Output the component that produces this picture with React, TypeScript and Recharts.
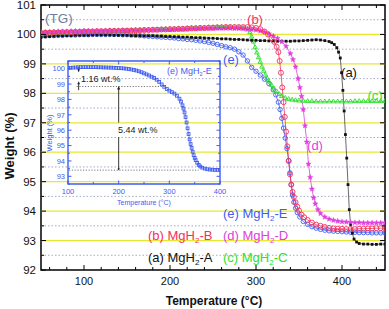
import React from 'react';
import { LineChart, Line, XAxis, YAxis, ReferenceLine, ReferenceArea } from 'recharts';

const W = 389;
const H = 309;
// main plot box (px)
const PL = 41, PR = 385, PT = 5, PB = 270;
// inset plot box (px)
const IL = 68, IR = 220, IT = 61, IB = 184;

const FONT = "'Liberation Sans', Arial, Helvetica, sans-serif";

const C_A = '#111111';
const C_B = '#f5305c';
const C_C = '#2ee02e';
const C_D = '#e040e0';
const C_E = '#3f5cf2';
const C_TG = '#6c7da0';
const YELLOW = '#e8e830';
const DOT_GRAY = '#a3acc8';

// ---- data: [temperature °C, weight %] ----
const curveA: [number, number][] = [
  [50, 99.9], [55, 99.92], [60, 99.93], [65, 99.94], [70, 99.95], [75, 99.95], [80, 99.96], [85, 99.96],
  [90, 99.97], [95, 99.97], [100, 99.97], [105, 99.97], [110, 99.98], [115, 99.98], [120, 99.98], [125, 99.98],
  [130, 99.98], [135, 99.97], [140, 99.97], [145, 99.97], [150, 99.97], [155, 99.96], [160, 99.96], [165, 99.96],
  [170, 99.95], [175, 99.95], [180, 99.95], [185, 99.94], [190, 99.94], [195, 99.93], [200, 99.93], [205, 99.92],
  [210, 99.92], [215, 99.91], [220, 99.91], [225, 99.9], [230, 99.89], [235, 99.89], [240, 99.88], [245, 99.87],
  [250, 99.87], [255, 99.86], [260, 99.85], [265, 99.85], [270, 99.84], [275, 99.83], [280, 99.83], [285, 99.82],
  [290, 99.81], [295, 99.8], [300, 99.8], [305, 99.79], [310, 99.79], [315, 99.78], [320, 99.78], [325, 99.77],
  [330, 99.77], [335, 99.77], [340, 99.77], [345, 99.78], [350, 99.78], [355, 99.79], [360, 99.8], [365, 99.81],
  [370, 99.82], [375, 99.81], [380, 99.79], [385, 99.76], [388, 99.72], [391, 99.66], [394, 99.55], [396, 99.4],
  [398, 99.2], [399.5, 98.7], [401, 98.1], [402.5, 97.4], [404, 96.6], [405.5, 95.8], [407, 94.9], [408.5, 94.05],
  [410, 93.55], [412, 93.25], [414, 93.05], [417, 92.95], [420, 92.9], [425, 92.88], [430, 92.88], [435, 92.87],
  [440, 92.87], [445, 92.88], [450, 92.88],
];

const curveB: [number, number][] = [
  [50, 100.05], [55, 100.06], [60, 100.06], [65, 100.07], [70, 100.07], [75, 100.08], [80, 100.08], [85, 100.08],
  [90, 100.09], [95, 100.09], [100, 100.1], [105, 100.1], [110, 100.1], [115, 100.11], [120, 100.11], [125, 100.11],
  [130, 100.12], [135, 100.12], [140, 100.12], [145, 100.13], [150, 100.13], [155, 100.13], [160, 100.14], [165, 100.14],
  [170, 100.15], [175, 100.15], [180, 100.16], [185, 100.16], [190, 100.17], [195, 100.17], [200, 100.18], [205, 100.18],
  [210, 100.19], [215, 100.19], [220, 100.2], [225, 100.21], [230, 100.21], [235, 100.22], [240, 100.22], [245, 100.23],
  [250, 100.23], [255, 100.24], [260, 100.24], [265, 100.25], [270, 100.25], [275, 100.25], [280, 100.25], [285, 100.25],
  [290, 100.25], [295, 100.24], [300, 100.22], [305, 100.18], [310, 100.1], [314, 100.0], [318, 99.88], [321, 99.75],
  [324, 99.58], [326, 99.4], [327.5, 99.1], [329, 98.7], [330.5, 98.2], [332, 97.7], [333.5, 97.2], [335, 96.7],
  [336.5, 96.2], [338, 95.7], [339.5, 95.25], [341, 94.9], [342.5, 94.65], [344, 94.48], [346, 94.3], [348, 94.15],
  [350, 94.02], [353, 93.88], [356, 93.79], [360, 93.7], [365, 93.61], [370, 93.54], [375, 93.5], [380, 93.46],
  [385, 93.43], [390, 93.41], [395, 93.4], [400, 93.4], [405, 93.39], [410, 93.39], [415, 93.39], [420, 93.4],
  [425, 93.4], [430, 93.41], [435, 93.41], [440, 93.42], [445, 93.42], [450, 93.42],
];

const curveC: [number, number][] = [
  [50, 100.0], [55, 100.01], [60, 100.02], [65, 100.03], [70, 100.04], [75, 100.05], [80, 100.05], [85, 100.06],
  [90, 100.07], [95, 100.07], [100, 100.08], [105, 100.08], [110, 100.09], [115, 100.1], [120, 100.1], [125, 100.11],
  [130, 100.11], [135, 100.12], [140, 100.12], [145, 100.13], [150, 100.13], [155, 100.14], [160, 100.14], [165, 100.15],
  [170, 100.15], [175, 100.16], [180, 100.16], [185, 100.17], [190, 100.17], [195, 100.18], [200, 100.18], [205, 100.19],
  [210, 100.2], [215, 100.2], [220, 100.21], [225, 100.22], [230, 100.22], [235, 100.23], [240, 100.23], [245, 100.24],
  [250, 100.24], [255, 100.25], [260, 100.25], [265, 100.25], [270, 100.25], [275, 100.25], [280, 100.24], [285, 100.22],
  [290, 100.17], [293, 100.07], [295, 99.92], [297, 99.75], [299, 99.56], [301, 99.38], [303, 99.22], [305, 99.06],
  [307, 98.9], [309, 98.76], [311, 98.63], [313, 98.5], [315, 98.4], [318, 98.28], [321, 98.16], [324, 98.06],
  [327, 97.97], [330, 97.9], [334, 97.84], [338, 97.8], [342, 97.78], [346, 97.76], [350, 97.75], [355, 97.74],
  [360, 97.73], [365, 97.73], [370, 97.72], [375, 97.72], [380, 97.72], [385, 97.72], [390, 97.72], [395, 97.72],
  [400, 97.72], [405, 97.72], [410, 97.72], [415, 97.73], [420, 97.73], [425, 97.73], [430, 97.73], [435, 97.73],
  [440, 97.73], [445, 97.73], [450, 97.73],
];

const curveD: [number, number][] = [
  [50, 100.08], [55, 100.08], [60, 100.09], [65, 100.09], [70, 100.1], [75, 100.1], [80, 100.1], [85, 100.11],
  [90, 100.11], [95, 100.11], [100, 100.12], [105, 100.12], [110, 100.12], [115, 100.12], [120, 100.12], [125, 100.13],
  [130, 100.13], [135, 100.13], [140, 100.13], [145, 100.13], [150, 100.13], [155, 100.14], [160, 100.14], [165, 100.14],
  [170, 100.15], [175, 100.15], [180, 100.15], [185, 100.15], [190, 100.16], [195, 100.16], [200, 100.16], [205, 100.17],
  [210, 100.17], [215, 100.18], [220, 100.18], [225, 100.19], [230, 100.19], [235, 100.2], [240, 100.2], [245, 100.2],
  [250, 100.2], [255, 100.21], [260, 100.21], [265, 100.21], [270, 100.21], [275, 100.2], [280, 100.2], [285, 100.19],
  [290, 100.18], [295, 100.17], [300, 100.15], [305, 100.12], [310, 100.08], [315, 100.02], [320, 99.95], [325, 99.87],
  [330, 99.75], [335, 99.6], [340, 99.35], [343, 99.15], [346, 98.9], [349, 98.5], [351, 98.2], [353, 97.9],
  [355, 97.45], [357, 96.9], [359, 96.35], [361, 95.6], [363, 95.15], [365, 94.75], [367, 94.45], [369, 94.25],
  [372, 94.05], [375, 93.92], [380, 93.8], [385, 93.73], [390, 93.69], [395, 93.66], [400, 93.64], [405, 93.63],
  [410, 93.62], [415, 93.61], [420, 93.61], [425, 93.6], [430, 93.6], [435, 93.6], [440, 93.6], [445, 93.6], [450, 93.6],
];

const curveE: [number, number][] = [
  [50, 99.95], [55, 99.95], [60, 99.96], [65, 99.96], [70, 99.97], [75, 99.97], [80, 99.98], [85, 99.98],
  [90, 99.98], [95, 99.99], [100, 99.99], [105, 99.99], [110, 100.0], [115, 100.0], [120, 100.0], [125, 100.0],
  [130, 100.0], [135, 100.0], [140, 100.0], [145, 99.99], [150, 99.99], [155, 99.98], [160, 99.97], [165, 99.96],
  [170, 99.95], [175, 99.94], [180, 99.93], [185, 99.92], [190, 99.91], [195, 99.9], [200, 99.89], [205, 99.88],
  [210, 99.86], [215, 99.85], [220, 99.83], [225, 99.82], [230, 99.8], [235, 99.78], [240, 99.76], [245, 99.73],
  [250, 99.7], [255, 99.66], [260, 99.62], [265, 99.58], [270, 99.55], [275, 99.5], [280, 99.41], [285, 99.3],
  [290, 99.1], [295, 98.88], [300, 98.75], [305, 98.62], [310, 98.48], [315, 98.33], [320, 98.12], [323, 97.95],
  [326, 97.7], [328, 97.45], [330, 97.15], [332, 96.82], [334, 96.48], [336, 96.12], [338, 95.72], [339.5, 95.3],
  [341, 94.9], [342.5, 94.55], [344, 94.3], [346, 94.1], [348, 93.95], [351, 93.8], [355, 93.65], [360, 93.55],
  [365, 93.47], [370, 93.42], [375, 93.38], [380, 93.35], [385, 93.33], [390, 93.32], [395, 93.31], [400, 93.3],
  [405, 93.29], [410, 93.28], [415, 93.28], [420, 93.27], [425, 93.27], [430, 93.27], [435, 93.26], [440, 93.26],
  [445, 93.26], [450, 93.26],
];

const insetE: [number, number][] = [
  [100, 100.05], [105, 100.06], [110, 100.07], [115, 100.08], [120, 100.09], [125, 100.1], [130, 100.1], [135, 100.1],
  [140, 100.1], [145, 100.1], [150, 100.1], [155, 100.1], [160, 100.09], [165, 100.09], [170, 100.08], [175, 100.08],
  [180, 100.07], [185, 100.07], [190, 100.06], [195, 100.05], [200, 100.04], [205, 100.03], [210, 100.02], [215, 100.0],
  [220, 99.98], [225, 99.95], [230, 99.92], [235, 99.88], [240, 99.83], [245, 99.77], [250, 99.7], [255, 99.63],
  [260, 99.56], [265, 99.48], [270, 99.4], [275, 99.28], [280, 99.14], [285, 98.98], [290, 98.82], [295, 98.68],
  [300, 98.57], [305, 98.48], [310, 98.38], [315, 98.24], [320, 98.05], [323, 97.86], [326, 97.62], [328, 97.4],
  [330, 97.15], [332, 96.85], [334, 96.5], [336, 96.12], [338, 95.75], [340, 95.4], [342, 95.1], [344, 94.85],
  [346, 94.6], [348, 94.38], [350, 94.2], [352, 94.05], [355, 93.88], [358, 93.74], [361, 93.64], [365, 93.56],
  [370, 93.5], [375, 93.46], [380, 93.44], [385, 93.43], [390, 93.42], [395, 93.42], [400, 93.41],
];

// ---- ticks & grid values ----
const xTicks = [60, 80, 100, 120, 140, 160, 180, 200, 220, 240, 260, 280, 300, 320, 340, 360, 380, 400, 420, 440];
const yTicks = [92, 92.5, 93, 93.5, 94, 94.5, 95, 95.5, 96, 96.5, 97, 97.5, 98, 98.5, 99, 99.5, 100, 100.5, 101];
const yellowLines = [93, 94, 95, 96, 97, 98, 99, 100];
const dottedLines = [92.5, 93.5, 94.5, 95.5, 96.5, 97.5, 98.5, 99.5, 100.5];
const insetXTicks = [100, 150, 200, 250, 300, 350, 400];
const insetYTicks = [92.5, 93, 93.5, 94, 94.5, 95, 95.5, 96, 96.5, 97, 97.5, 98, 98.5, 99, 99.5, 100, 100.5];

// annotation values in the inset
const stepTop = 98.84;
const stepBottom = 93.4;

const toPts = (arr: [number, number][]) => arr.map(([t, w]) => ({ t, w }));

// ---- markers ----
const squareDot = (color: string, s: number, filled: boolean) => (p: any) => (
  <rect key={`sq${p.index}`} x={p.cx - s / 2} y={p.cy - s / 2} width={s} height={s}
    fill={filled ? color : 'none'} stroke={color} strokeWidth={filled ? 0 : 0.9} />
);
const circleDot = (color: string, r: number) => (p: any) => (
  <circle key={`ci${p.index}`} cx={p.cx} cy={p.cy} r={r} fill="none" stroke={color} strokeWidth={0.9} />
);
const triDot = (color: string, r: number) => (p: any) => (
  <path key={`tr${p.index}`}
    d={`M${p.cx},${p.cy - r}L${p.cx + r * 0.87},${p.cy + r * 0.5}L${p.cx - r * 0.87},${p.cy + r * 0.5}Z`}
    fill="none" stroke={color} strokeWidth={0.9} />
);
const starDot = (color: string, r: number) => (p: any) => {
  let d = '';
  for (let i = 0; i < 10; i++) {
    const a = -Math.PI / 2 + (i * Math.PI) / 5;
    const rr = i % 2 === 0 ? r : r * 0.45;
    d += (i === 0 ? 'M' : 'L') + (p.cx + rr * Math.cos(a)).toFixed(2) + ',' + (p.cy + rr * Math.sin(a)).toFixed(2);
  }
  return <path key={`st${p.index}`} d={d + 'Z'} fill={color} stroke={color} strokeWidth={0.4} />;
};

// ---- ticks (drawn inward on all four sides) ----
const mainXTick = (p: any) => {
  const v = p.payload.value;
  const x = p.x;
  const major = v % 100 === 0;
  const len = major ? 5 : 3;
  return (
    <g>
      <line x1={x} x2={x} y1={PB} y2={PB - len} stroke="#000" />
      <line x1={x} x2={x} y1={PT} y2={PT + len} stroke="#000" />
      {major && (
        <text x={x} y={PB + 15} textAnchor="middle" fontSize={11} fontFamily={FONT} fill="#111">{v}</text>
      )}
    </g>
  );
};

const mainYTick = (p: any) => {
  const v = p.payload.value;
  const y = p.y;
  const major = Number.isInteger(v);
  const len = major ? 5 : 3;
  return (
    <g>
      <line x1={PL} x2={PL + len} y1={y} y2={y} stroke="#000" />
      <line x1={PR} x2={PR - len} y1={y} y2={y} stroke="#000" />
      {major && (
        <text x={PL - 5} y={y + 4} textAnchor="end" fontSize={11.5} fontFamily={FONT} fill="#111">{v}</text>
      )}
    </g>
  );
};

const insetXTick = (p: any) => {
  const v = p.payload.value;
  const x = p.x;
  const major = v % 100 === 0;
  const len = major ? 3.5 : 2;
  return (
    <g>
      <line x1={x} x2={x} y1={IB} y2={IB - len} stroke={C_E} />
      <line x1={x} x2={x} y1={IT} y2={IT + len} stroke={C_E} />
      {major && (
        <text x={x} y={IB + 10} textAnchor="middle" fontSize={7.5} fontFamily={FONT} fill={C_E}>{v}</text>
      )}
    </g>
  );
};

const insetYTick = (p: any) => {
  const v = p.payload.value;
  const y = p.y;
  const major = Number.isInteger(v);
  const len = major ? 3.5 : 2;
  return (
    <g>
      <line x1={IL} x2={IL + len} y1={y} y2={y} stroke={C_E} />
      <line x1={IR} x2={IR - len} y1={y} y2={y} stroke={C_E} />
      {major && (
        <text x={IL - 3} y={y + 2.7} textAnchor="end" fontSize={7.5} fontFamily={FONT} fill={C_E}>{v}</text>
      )}
    </g>
  );
};

// line with an arrowhead at its second point
const arrow = (color: string, head: number) => (p: any) => {
  const { x1, y1, x2, y2 } = p;
  const dir = y2 < y1 ? 1 : -1;
  return (
    <g>
      <line x1={x1} y1={y1} x2={x2} y2={y2} stroke={color} strokeWidth={0.9} />
      {head > 0 && (
        <path d={`M${x2},${y2}L${x2 - head * 0.55},${y2 + dir * head}L${x2 + head * 0.55},${y2 + dir * head}Z`} fill={color} />
      )}
    </g>
  );
};

const MgLabel = ({ x, y, tag, suffix, color, size }: any) => (
  <text x={x} y={y} fill={color} fontSize={size} fontFamily={FONT}>
    ({tag}) MgH<tspan fontSize={size * 0.62} dy={size * 0.22}>2</tspan>
    <tspan dy={-size * 0.22}>-{suffix}</tspan>
  </text>
);

export default function App() {
  return (
    <div style={{ position: 'absolute', left: 0, top: 0, width: W, height: H, background: '#fff' }}>
      <LineChart width={W} height={H} margin={{ top: PT, right: W - PR, bottom: H - PB - 1, left: PL - 1 }}>
        <XAxis type="number" dataKey="t" domain={[50, 450]} allowDataOverflow ticks={xTicks} interval={0}
          tick={mainXTick} tickLine={false} axisLine={false} tickSize={0} tickMargin={0} height={1} />
        <YAxis type="number" domain={[92, 101]} allowDataOverflow ticks={yTicks} interval={0}
          tick={mainYTick} tickLine={false} axisLine={false} tickSize={0} tickMargin={0} width={1} />
        {dottedLines.map((v) => (
          <ReferenceLine key={`d${v}`} y={v} stroke={DOT_GRAY} strokeDasharray="1.5 2" strokeWidth={1} />
        ))}
        {yellowLines.map((v) => (
          <ReferenceLine key={`y${v}`} y={v} stroke={YELLOW} strokeWidth={1.2} />
        ))}
        <Line data={toPts(curveE)} dataKey="w" stroke={C_E} strokeWidth={0.8} dot={circleDot(C_E, 2.2)} isAnimationActive={false} />
        <Line data={toPts(curveC)} dataKey="w" stroke={C_C} strokeWidth={0.8} dot={triDot(C_C, 2.6)} isAnimationActive={false} />
        <Line data={toPts(curveA)} dataKey="w" stroke="#444" strokeWidth={0.8} dot={squareDot(C_A, 2.8, true)} isAnimationActive={false} />
        <Line data={toPts(curveD)} dataKey="w" stroke={C_D} strokeWidth={0.8} dot={starDot(C_D, 2.8)} isAnimationActive={false} />
        <Line data={toPts(curveB)} dataKey="w" stroke={C_B} strokeWidth={0.8} dot={circleDot(C_B, 2.5)} isAnimationActive={false} />
        <ReferenceArea x1={50} x2={450} y1={92} y2={101} fill="none" stroke="#000" strokeWidth={1.5} fillOpacity={0} />
      </LineChart>

      <div style={{ position: 'absolute', left: 0, top: 0 }}>
        <LineChart width={W} height={H} margin={{ top: IT, right: W - IR, bottom: H - IB - 1, left: IL - 1 }}>
          <XAxis type="number" dataKey="t" domain={[100, 400]} allowDataOverflow ticks={insetXTicks} interval={0}
            tick={insetXTick} tickLine={false} axisLine={false} tickSize={0} tickMargin={0} height={1} />
          <YAxis type="number" domain={[92.5, 100.5]} allowDataOverflow ticks={insetYTicks} interval={0}
            tick={insetYTick} tickLine={false} axisLine={false} tickSize={0} tickMargin={0} width={1} />
          <ReferenceLine segment={[{ x: 117, y: stepTop }, { x: 292, y: stepTop }]} stroke="#777" strokeDasharray="1.2 1.6" />
          <ReferenceLine segment={[{ x: 102, y: stepBottom }, { x: 358, y: stepBottom }]} stroke="#777" strokeDasharray="1.2 1.6" />
          <ReferenceLine segment={[{ x: 121, y: 100.12 }, { x: 121, y: 99.8 }]} shape={arrow('#222', 2.6)} />
          <ReferenceLine segment={[{ x: 121, y: 98.6 }, { x: 121, y: 99.15 }]} shape={arrow('#222', 2.6)} />
          <ReferenceLine segment={[{ x: 200, y: 96.5 }, { x: 200, y: stepTop }]} shape={arrow('#222', 3)} />
          <ReferenceLine segment={[{ x: 200, y: 95.55 }, { x: 200, y: stepBottom }]} shape={arrow('#222', 2)} />
          <Line data={toPts(insetE)} dataKey="w" stroke={C_E} strokeWidth={0.6} dot={squareDot(C_E, 2.8, false)} isAnimationActive={false} />
          <ReferenceArea x1={100} x2={400} y1={92.5} y2={100.5} fill="none" fillOpacity={0} stroke={C_E} strokeWidth={1.4} />
        </LineChart>
      </div>

      <svg width={W} height={H} style={{ position: 'absolute', left: 0, top: 0, pointerEvents: 'none' }}>
        {/* main plot labels */}
        <text x={45} y={23} fontSize={13.5} fontFamily={FONT} fill={C_TG}>(TG)</text>
        <text x={255} y={24} fontSize={13} fontFamily={FONT} fill={C_B} textAnchor="middle">(b)</text>
        <text x={231} y={64} fontSize={13} fontFamily={FONT} fill={C_E} textAnchor="middle">(e)</text>
        <text x={349} y={77} fontSize={13} fontFamily={FONT} fill={C_A} textAnchor="middle">(a)</text>
        <text x={375} y={100} fontSize={13} fontFamily={FONT} fill={C_C} textAnchor="middle">(c)</text>
        <text x={315} y={150} fontSize={13} fontFamily={FONT} fill={C_D} textAnchor="middle">(d)</text>

        <MgLabel x={223} y={218} tag="e" suffix="E" color={C_E} size={13} />
        <MgLabel x={223} y={240} tag="d" suffix="D" color={C_D} size={13} />
        <MgLabel x={223} y={262} tag="c" suffix="C" color={C_C} size={13} />
        <MgLabel x={148} y={240} tag="b" suffix="B" color={C_B} size={13} />
        <MgLabel x={148} y={262} tag="a" suffix="A" color={C_A} size={13} />

        <text transform="translate(14,146) rotate(-90)" textAnchor="middle" fontSize={13} fontWeight="bold" fontFamily={FONT} fill="#111">Weight (%)</text>
        <text x={214} y={305} textAnchor="middle" fontSize={12} fontWeight="bold" fontFamily={FONT} fill="#111">Temperature (°C)</text>

        {/* inset labels */}
        <MgLabel x={167} y={74} tag="e" suffix="E" color={C_E} size={9} />
        <text x={81} y={82} fontSize={9} fontFamily={FONT} fill="#222">1.16 wt.%</text>
        <text x={118} y={133} fontSize={9} fontFamily={FONT} fill="#222">5.44 wt.%</text>
        <text x={144} y={205} textAnchor="middle" fontSize={7} fontFamily={FONT} fill={C_E}>Temperature (°C)</text>
        <text transform="translate(52,133) rotate(-90)" textAnchor="middle" fontSize={7.5} fontFamily={FONT} fill={C_E}>Weight (%)</text>
      </svg>
    </div>
  );
}
